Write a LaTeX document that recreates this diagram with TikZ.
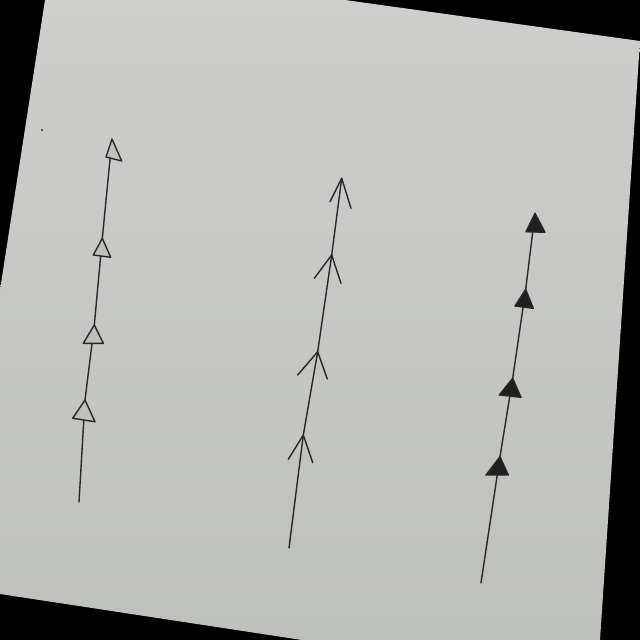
\documentclass[tikz,border=0pt]{standalone}
\definecolor{carta}{RGB}{190,192,187}
\definecolor{cartaalta}{RGB}{206,207,205}
\definecolor{inchiostro}{RGB}{40,40,42}
\begin{document}
\begin{tikzpicture}[
    x=0.025cm,y=-0.025cm,
    tratto/.style={draw=inchiostro,line width=1pt,line join=round,line cap=round},
    vuota/.style={tratto,fill=carta},
    piena/.style={tratto,fill=black!88}]

  % ---- foglio fotografato ----------------------------------------------
  \useasboundingbox (0,0) rectangle (640,640);
  \fill[black] (0,0) rectangle (640,640);
  \fill[top color=cartaalta,bottom color=carta]
    (45,0) -- (345,0) -- (640,41) -- (600,640) -- (302,640) -- (0,594) -- (0,290) -- cycle;
  \fill[inchiostro] (42,130) circle (1.2);

  % ---- linea sinistra: triangoli vuoti ---------------------------------
  \coordinate (a0)  at ( 79.0,502.0);   % estremo in basso
  \coordinate (a1)  at ( 85.0,400.0);
  \coordinate (a1l) at ( 72.7,418.3);
  \coordinate (a1r) at ( 95.0,421.7);
  \coordinate (a2)  at ( 94.3,325.0);
  \coordinate (a2l) at ( 83.3,343.3);
  \coordinate (a2r) at (103.3,343.3);
  \coordinate (a3)  at (102.3,238.3);
  \coordinate (a3l) at ( 93.3,255.0);
  \coordinate (a3r) at (110.7,257.3);
  \coordinate (a4)  at (112.0,139.0);   % punta in alto
  \coordinate (a4l) at (106.0,157.0);
  \coordinate (a4r) at (121.7,161.0);

  % ---- linea centrale: punte aperte ------------------------------------
  \coordinate (b0)  at (289.0,548.0);   % estremo in basso
  \coordinate (b1)  at (303.3,435.0);
  \coordinate (b1l) at (288.3,459.3);
  \coordinate (b1r) at (312.7,462.7);
  \coordinate (b2)  at (317.7,351.7);
  \coordinate (b2l) at (297.7,375.0);
  \coordinate (b2r) at (327.3,379.0);
  \coordinate (b3)  at (331.7,255.0);
  \coordinate (b3l) at (314.3,278.3);
  \coordinate (b3r) at (341.0,283.3);
  \coordinate (b4)  at (341.7,178.3);   % punta in alto
  \coordinate (b4l) at (330.0,201.7);
  \coordinate (b4r) at (351.0,208.3);

  % ---- linea destra: triangoli pieni -----------------------------------
  \coordinate (c0)  at (481.0,583.0);   % estremo in basso
  \coordinate (c1)  at (500.0,456.7);
  \coordinate (c1l) at (486.0,475.0);
  \coordinate (c1r) at (508.3,475.0);
  \coordinate (c2)  at (512.7,378.3);
  \coordinate (c2l) at (499.3,395.0);
  \coordinate (c2r) at (521.0,397.3);
  \coordinate (c3)  at (525.7,289.3);
  \coordinate (c3l) at (515.0,306.0);
  \coordinate (c3r) at (533.3,308.3);
  \coordinate (c4)  at (535.0,213.3);   % punta in alto
  \coordinate (c4l) at (526.0,231.7);
  \coordinate (c4r) at (545.0,232.3);

  % ---- tratti ----------------------------------------------------------
  \draw[tratto] (a0) -- (a1) -- (a2) -- (a3) -- (a4);
  \draw[tratto] (b0) -- (b1) -- (b2) -- (b3) -- (b4);
  \draw[tratto] (c0) -- (c1) -- (c2) -- (c3) -- (c4);

  % ---- punte -----------------------------------------------------------
  \foreach \t in {a1,a2,a3,a4}
    \draw[vuota] (\t) -- (\t l) -- (\t r) -- cycle;
  \foreach \t in {b1,b2,b3,b4}
    \draw[tratto] (\t l) -- (\t) -- (\t r);
  \foreach \t in {c1,c2,c3,c4}
    \draw[piena] (\t) -- (\t l) -- (\t r) -- cycle;

\end{tikzpicture}
\end{document}
